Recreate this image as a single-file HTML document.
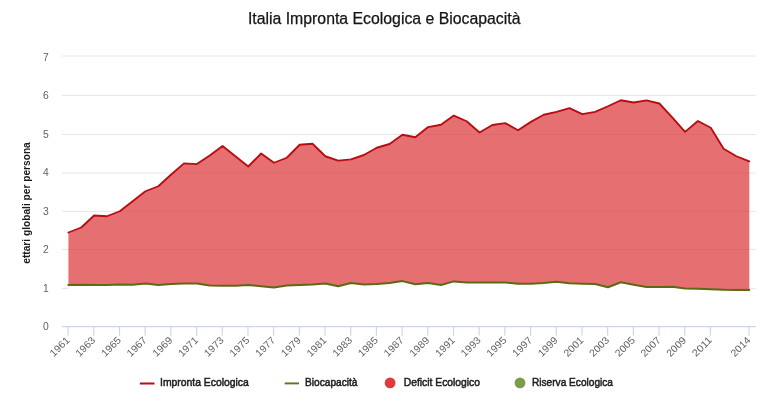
<!DOCTYPE html>
<html lang="it"><head><meta charset="utf-8"><title>Italia Impronta Ecologica e Biocapacità</title>
<style>html,body{margin:0;padding:0;background:#fff;overflow:hidden}svg{display:block}text{font-family:"Liberation Sans",sans-serif}</style></head><body>
<svg width="768" height="401" viewBox="0 0 768 401">
<rect width="768" height="401" fill="#fff"/>
<line x1="61.8" x2="755.7" y1="56.0" y2="56.0" stroke="#e6e6e6" stroke-width="1"/>
<line x1="61.8" x2="755.7" y1="95.4" y2="95.4" stroke="#e6e6e6" stroke-width="1"/>
<line x1="61.8" x2="755.7" y1="134.5" y2="134.5" stroke="#e6e6e6" stroke-width="1"/>
<line x1="61.8" x2="755.7" y1="173.1" y2="173.1" stroke="#e6e6e6" stroke-width="1"/>
<line x1="61.8" x2="755.7" y1="211.3" y2="211.3" stroke="#e6e6e6" stroke-width="1"/>
<line x1="61.8" x2="755.7" y1="249.4" y2="249.4" stroke="#e6e6e6" stroke-width="1"/>
<line x1="61.8" x2="755.7" y1="288.6" y2="288.6" stroke="#e6e6e6" stroke-width="1"/>
<polygon points="68.40,285.10 81.25,284.80 94.09,285.00 106.94,285.00 119.79,284.50 132.63,284.70 145.48,283.50 158.33,285.00 171.18,284.00 184.02,283.50 196.87,283.50 209.72,285.40 222.56,285.70 235.41,285.70 248.26,285.00 261.11,286.20 273.95,287.40 286.80,285.60 299.65,285.00 312.49,284.40 325.34,283.50 338.19,286.20 351.03,283.00 363.88,284.60 376.73,284.10 389.58,283.00 402.42,281.10 415.27,284.30 428.12,282.90 440.96,285.00 453.81,281.40 466.66,282.60 479.50,282.60 492.35,282.60 505.20,282.60 518.04,283.70 530.89,283.70 543.74,282.90 556.59,281.80 569.43,283.25 582.28,283.70 595.13,284.00 607.97,287.20 620.82,282.30 633.67,284.70 646.51,287.10 659.36,287.10 672.21,286.70 685.06,288.60 697.90,288.80 710.75,289.20 723.60,289.80 736.44,290.00 749.29,290.00 749.29,326.6 68.40,326.6" fill="#fff"/>
<polygon points="68.40,232.50 81.25,227.50 94.09,215.50 106.94,216.25 119.79,211.25 132.63,201.25 145.48,191.25 158.33,186.25 171.18,174.50 184.02,163.40 196.87,164.10 209.72,155.60 222.56,146.00 235.41,156.25 248.26,166.50 261.11,153.50 273.95,162.75 286.80,157.75 299.65,144.75 312.49,143.75 325.34,156.25 338.19,160.60 351.03,159.40 363.88,155.00 376.73,147.75 389.58,144.00 402.42,134.75 415.27,137.25 428.12,127.10 440.96,124.75 453.81,115.60 466.66,121.25 479.50,132.50 492.35,125.00 505.20,123.10 518.04,130.25 530.89,121.90 543.74,114.75 556.59,111.90 569.43,108.10 582.28,114.20 595.13,111.90 607.97,106.25 620.82,100.25 633.67,102.50 646.51,100.40 659.36,103.50 672.21,117.30 685.06,131.90 697.90,121.00 710.75,127.80 723.60,148.75 736.44,156.25 749.29,161.30 749.29,290.00 736.44,290.00 723.60,289.80 710.75,289.20 697.90,288.80 685.06,288.60 672.21,286.70 659.36,287.10 646.51,287.10 633.67,284.70 620.82,282.30 607.97,287.20 595.13,284.00 582.28,283.70 569.43,283.25 556.59,281.80 543.74,282.90 530.89,283.70 518.04,283.70 505.20,282.60 492.35,282.60 479.50,282.60 466.66,282.60 453.81,281.40 440.96,285.00 428.12,282.90 415.27,284.30 402.42,281.10 389.58,283.00 376.73,284.10 363.88,284.60 351.03,283.00 338.19,286.20 325.34,283.50 312.49,284.40 299.65,285.00 286.80,285.60 273.95,287.40 261.11,286.20 248.26,285.00 235.41,285.70 222.56,285.70 209.72,285.40 196.87,283.50 184.02,283.50 171.18,284.00 158.33,285.00 145.48,283.50 132.63,284.70 119.79,284.50 106.94,285.00 94.09,285.00 81.25,284.80 68.40,285.10" fill="#de3f42" fill-opacity="0.75"/>
<polyline points="68.40,232.50 81.25,227.50 94.09,215.50 106.94,216.25 119.79,211.25 132.63,201.25 145.48,191.25 158.33,186.25 171.18,174.50 184.02,163.40 196.87,164.10 209.72,155.60 222.56,146.00 235.41,156.25 248.26,166.50 261.11,153.50 273.95,162.75 286.80,157.75 299.65,144.75 312.49,143.75 325.34,156.25 338.19,160.60 351.03,159.40 363.88,155.00 376.73,147.75 389.58,144.00 402.42,134.75 415.27,137.25 428.12,127.10 440.96,124.75 453.81,115.60 466.66,121.25 479.50,132.50 492.35,125.00 505.20,123.10 518.04,130.25 530.89,121.90 543.74,114.75 556.59,111.90 569.43,108.10 582.28,114.20 595.13,111.90 607.97,106.25 620.82,100.25 633.67,102.50 646.51,100.40 659.36,103.50 672.21,117.30 685.06,131.90 697.90,121.00 710.75,127.80 723.60,148.75 736.44,156.25 749.29,161.30" fill="none" stroke="#b80d12" stroke-width="1.85" stroke-linejoin="round" stroke-linecap="round"/>
<polyline points="68.40,285.10 81.25,284.80 94.09,285.00 106.94,285.00 119.79,284.50 132.63,284.70 145.48,283.50 158.33,285.00 171.18,284.00 184.02,283.50 196.87,283.50 209.72,285.40 222.56,285.70 235.41,285.70 248.26,285.00 261.11,286.20 273.95,287.40 286.80,285.60 299.65,285.00 312.49,284.40 325.34,283.50 338.19,286.20 351.03,283.00 363.88,284.60 376.73,284.10 389.58,283.00 402.42,281.10 415.27,284.30 428.12,282.90 440.96,285.00 453.81,281.40 466.66,282.60 479.50,282.60 492.35,282.60 505.20,282.60 518.04,283.70 530.89,283.70 543.74,282.90 556.59,281.80 569.43,283.25 582.28,283.70 595.13,284.00 607.97,287.20 620.82,282.30 633.67,284.70 646.51,287.10 659.36,287.10 672.21,286.70 685.06,288.60 697.90,288.80 710.75,289.20 723.60,289.80 736.44,290.00 749.29,290.00" fill="none" stroke="#5c6a16" stroke-width="2" stroke-linejoin="round" stroke-linecap="round"/>
<line x1="61.8" x2="755.7" y1="326.6" y2="326.6" stroke="#ccd6eb" stroke-width="1.2"/>
<line x1="68.10" x2="68.10" y1="326.6" y2="335.6" stroke="#ccd6eb" stroke-width="1.2"/>
<line x1="93.79" x2="93.79" y1="326.6" y2="335.6" stroke="#ccd6eb" stroke-width="1.2"/>
<line x1="119.49" x2="119.49" y1="326.6" y2="335.6" stroke="#ccd6eb" stroke-width="1.2"/>
<line x1="145.18" x2="145.18" y1="326.6" y2="335.6" stroke="#ccd6eb" stroke-width="1.2"/>
<line x1="170.88" x2="170.88" y1="326.6" y2="335.6" stroke="#ccd6eb" stroke-width="1.2"/>
<line x1="196.57" x2="196.57" y1="326.6" y2="335.6" stroke="#ccd6eb" stroke-width="1.2"/>
<line x1="222.26" x2="222.26" y1="326.6" y2="335.6" stroke="#ccd6eb" stroke-width="1.2"/>
<line x1="247.96" x2="247.96" y1="326.6" y2="335.6" stroke="#ccd6eb" stroke-width="1.2"/>
<line x1="273.65" x2="273.65" y1="326.6" y2="335.6" stroke="#ccd6eb" stroke-width="1.2"/>
<line x1="299.35" x2="299.35" y1="326.6" y2="335.6" stroke="#ccd6eb" stroke-width="1.2"/>
<line x1="325.04" x2="325.04" y1="326.6" y2="335.6" stroke="#ccd6eb" stroke-width="1.2"/>
<line x1="350.73" x2="350.73" y1="326.6" y2="335.6" stroke="#ccd6eb" stroke-width="1.2"/>
<line x1="376.43" x2="376.43" y1="326.6" y2="335.6" stroke="#ccd6eb" stroke-width="1.2"/>
<line x1="402.12" x2="402.12" y1="326.6" y2="335.6" stroke="#ccd6eb" stroke-width="1.2"/>
<line x1="427.82" x2="427.82" y1="326.6" y2="335.6" stroke="#ccd6eb" stroke-width="1.2"/>
<line x1="453.51" x2="453.51" y1="326.6" y2="335.6" stroke="#ccd6eb" stroke-width="1.2"/>
<line x1="479.20" x2="479.20" y1="326.6" y2="335.6" stroke="#ccd6eb" stroke-width="1.2"/>
<line x1="504.90" x2="504.90" y1="326.6" y2="335.6" stroke="#ccd6eb" stroke-width="1.2"/>
<line x1="530.59" x2="530.59" y1="326.6" y2="335.6" stroke="#ccd6eb" stroke-width="1.2"/>
<line x1="556.29" x2="556.29" y1="326.6" y2="335.6" stroke="#ccd6eb" stroke-width="1.2"/>
<line x1="581.98" x2="581.98" y1="326.6" y2="335.6" stroke="#ccd6eb" stroke-width="1.2"/>
<line x1="607.67" x2="607.67" y1="326.6" y2="335.6" stroke="#ccd6eb" stroke-width="1.2"/>
<line x1="633.37" x2="633.37" y1="326.6" y2="335.6" stroke="#ccd6eb" stroke-width="1.2"/>
<line x1="659.06" x2="659.06" y1="326.6" y2="335.6" stroke="#ccd6eb" stroke-width="1.2"/>
<line x1="684.76" x2="684.76" y1="326.6" y2="335.6" stroke="#ccd6eb" stroke-width="1.2"/>
<line x1="710.45" x2="710.45" y1="326.6" y2="335.6" stroke="#ccd6eb" stroke-width="1.2"/>
<line x1="748.99" x2="748.99" y1="326.6" y2="335.6" stroke="#ccd6eb" stroke-width="1.2"/>
<g font-size="10" fill="#5e5e5e" text-anchor="end">
<text transform="translate(70.30,340.80) rotate(-45)" textLength="23.4" lengthAdjust="spacingAndGlyphs">1961</text>
<text transform="translate(95.99,340.80) rotate(-45)" textLength="23.4" lengthAdjust="spacingAndGlyphs">1963</text>
<text transform="translate(121.69,340.80) rotate(-45)" textLength="23.4" lengthAdjust="spacingAndGlyphs">1965</text>
<text transform="translate(147.38,340.80) rotate(-45)" textLength="23.4" lengthAdjust="spacingAndGlyphs">1967</text>
<text transform="translate(173.08,340.80) rotate(-45)" textLength="23.4" lengthAdjust="spacingAndGlyphs">1969</text>
<text transform="translate(198.77,340.80) rotate(-45)" textLength="23.4" lengthAdjust="spacingAndGlyphs">1971</text>
<text transform="translate(224.46,340.80) rotate(-45)" textLength="23.4" lengthAdjust="spacingAndGlyphs">1973</text>
<text transform="translate(250.16,340.80) rotate(-45)" textLength="23.4" lengthAdjust="spacingAndGlyphs">1975</text>
<text transform="translate(275.85,340.80) rotate(-45)" textLength="23.4" lengthAdjust="spacingAndGlyphs">1977</text>
<text transform="translate(301.55,340.80) rotate(-45)" textLength="23.4" lengthAdjust="spacingAndGlyphs">1979</text>
<text transform="translate(327.24,340.80) rotate(-45)" textLength="23.4" lengthAdjust="spacingAndGlyphs">1981</text>
<text transform="translate(352.93,340.80) rotate(-45)" textLength="23.4" lengthAdjust="spacingAndGlyphs">1983</text>
<text transform="translate(378.63,340.80) rotate(-45)" textLength="23.4" lengthAdjust="spacingAndGlyphs">1985</text>
<text transform="translate(404.32,340.80) rotate(-45)" textLength="23.4" lengthAdjust="spacingAndGlyphs">1987</text>
<text transform="translate(430.02,340.80) rotate(-45)" textLength="23.4" lengthAdjust="spacingAndGlyphs">1989</text>
<text transform="translate(455.71,340.80) rotate(-45)" textLength="23.4" lengthAdjust="spacingAndGlyphs">1991</text>
<text transform="translate(481.40,340.80) rotate(-45)" textLength="23.4" lengthAdjust="spacingAndGlyphs">1993</text>
<text transform="translate(507.10,340.80) rotate(-45)" textLength="23.4" lengthAdjust="spacingAndGlyphs">1995</text>
<text transform="translate(532.79,340.80) rotate(-45)" textLength="23.4" lengthAdjust="spacingAndGlyphs">1997</text>
<text transform="translate(558.49,340.80) rotate(-45)" textLength="23.4" lengthAdjust="spacingAndGlyphs">1999</text>
<text transform="translate(584.18,340.80) rotate(-45)" textLength="23.4" lengthAdjust="spacingAndGlyphs">2001</text>
<text transform="translate(609.87,340.80) rotate(-45)" textLength="23.4" lengthAdjust="spacingAndGlyphs">2003</text>
<text transform="translate(635.57,340.80) rotate(-45)" textLength="23.4" lengthAdjust="spacingAndGlyphs">2005</text>
<text transform="translate(661.26,340.80) rotate(-45)" textLength="23.4" lengthAdjust="spacingAndGlyphs">2007</text>
<text transform="translate(686.96,340.80) rotate(-45)" textLength="23.4" lengthAdjust="spacingAndGlyphs">2009</text>
<text transform="translate(712.65,340.80) rotate(-45)" textLength="23.4" lengthAdjust="spacingAndGlyphs">2011</text>
<text transform="translate(751.19,340.80) rotate(-45)" textLength="23.4" lengthAdjust="spacingAndGlyphs">2014</text>
</g>
<g font-size="10.3" fill="#5e5e5e" text-anchor="end">
<text x="48.7" y="60.50">7</text>
<text x="48.7" y="99.06">6</text>
<text x="48.7" y="137.62">5</text>
<text x="48.7" y="176.18">4</text>
<text x="48.7" y="214.74">3</text>
<text x="48.7" y="253.30">2</text>
<text x="48.7" y="291.86">1</text>
<text x="48.7" y="330.42">0</text>
</g>
<text transform="translate(30.4,203) rotate(-90)" text-anchor="middle" font-size="10.5" font-weight="bold" fill="#1a1a1a" textLength="121.5" lengthAdjust="spacingAndGlyphs">ettari globali per persona</text>
<text x="247.9" y="23.8" font-size="16" fill="#141414" stroke="#141414" stroke-width="0.25" textLength="272.6" lengthAdjust="spacingAndGlyphs">Italia Impronta Ecologica e Biocapacità</text>
<g font-size="11" fill="#1c1c1c" stroke="#1c1c1c" stroke-width="0.5">
<text x="160" y="386.35" textLength="88.75" lengthAdjust="spacingAndGlyphs">Impronta Ecologica</text>
<text x="305" y="386.35" textLength="52.5" lengthAdjust="spacingAndGlyphs">Biocapacità</text>
<text x="403.75" y="386.35" textLength="76.25" lengthAdjust="spacingAndGlyphs">Deficit Ecologico</text>
<text x="532" y="386.35" textLength="81" lengthAdjust="spacingAndGlyphs">Riserva Ecologica</text>
</g>
<line x1="139.8" x2="154.5" y1="383.5" y2="383.5" stroke="#b80d12" stroke-width="2"/>
<line x1="284.7" x2="299" y1="383.4" y2="383.4" stroke="#5b7718" stroke-width="1.9"/>
<circle cx="390.1" cy="382.9" r="5.4" fill="#e03a3e"/>
<circle cx="520" cy="382.9" r="5.4" fill="#7c9c4c"/>
</svg></body></html>
